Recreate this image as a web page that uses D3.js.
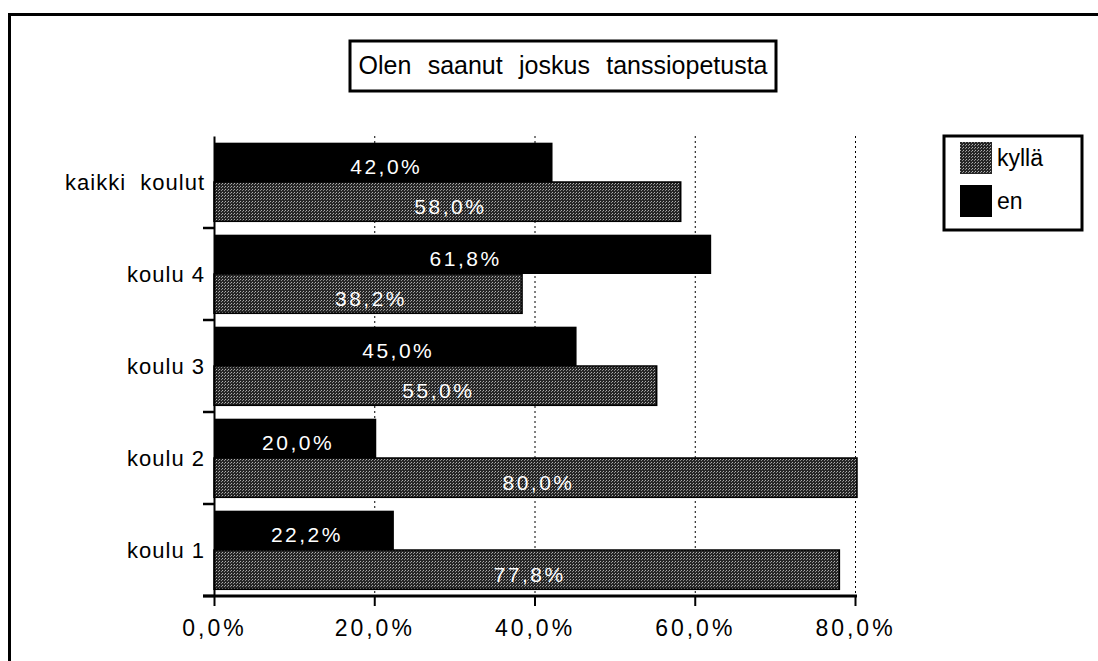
<!DOCTYPE html>
<html><head><meta charset="utf-8">
<script src="https://cdn.jsdelivr.net/npm/d3@7/dist/d3.min.js"></script>
<style>
html,body{margin:0;padding:0;background:#fff;}
svg{display:block;}
text{font-family:"Liberation Sans",Arial,Helvetica,sans-serif;}
</style></head>
<body>
<script>
const title = "Olen saanut joskus tanssiopetusta";
const categories = ["kaikki  koulut","koulu 4","koulu 3","koulu 2","koulu 1"];
const seriesNames = ["en","kyllä"];
const enValues = [42.0, 61.8, 45.0, 20.0, 22.2];
const kyllaValues = [58.0, 38.2, 55.0, 80.0, 77.8];
const xTicks = [0, 20, 40, 60, 80];
const xTickLabels = ["0,0%","20,0%","40,0%","60,0%","80,0%"];

const W = 1098, H = 661;
const svg = d3.select("body").append("svg").attr("width", W).attr("height", H);

const defs = svg.append("defs");
const pat = defs.append("pattern").attr("id","dots").attr("patternUnits","userSpaceOnUse")
  .attr("width",3).attr("height",3);
pat.append("rect").attr("width",3).attr("height",3).attr("fill","#262626");
pat.append("rect").attr("x",0).attr("y",0).attr("width",1).attr("height",1).attr("fill","#b0b0b0");
pat.append("rect").attr("x",2).attr("y",1).attr("width",1).attr("height",1).attr("fill","#8a8a8a");

const fills = {"en":"#000", "kyllä":"url(#dots)"};

// outer frame
svg.append("line").attr("x1",9.5).attr("x2",9.5).attr("y1",13).attr("y2",H).attr("stroke","#000").attr("stroke-width",3);
svg.append("line").attr("x1",8).attr("x2",W).attr("y1",14.5).attr("y2",14.5).attr("stroke","#000").attr("stroke-width",3);

// title box
svg.append("rect").attr("x",350).attr("y",41).attr("width",426).attr("height",50)
  .attr("fill","#fff").attr("stroke","#000").attr("stroke-width",3);
const tt = svg.append("text").attr("x",563).attr("y",74).attr("text-anchor","middle")
  .attr("font-size",25).text(title);
{
  const w = tt.node().getComputedTextLength();
  const extra = 409 - w;
  if (extra > 0) tt.attr("word-spacing", (extra/3).toFixed(2)+"px");
  else tt.attr("textLength",409).attr("lengthAdjust","spacingAndGlyphs");
}

const x = d3.scaleLinear().domain([0,80]).range([214,855]);
const y = d3.scaleBand().domain(categories).range([136,596]);
const ySub = d3.scaleBand().domain(seriesNames).range([0, y.bandwidth()]).paddingOuter(0.17).paddingInner(0);

// gridlines
svg.append("g").selectAll("line").data(xTicks.slice(1)).join("line")
  .attr("x1",d=>x(d)+0.5).attr("x2",d=>x(d)+0.5).attr("y1",136).attr("y2",596)
  .attr("stroke","#000").attr("stroke-width",1).attr("stroke-dasharray","2,3");

// bars
const rows = categories.map((c,i)=>({cat:c, values:[{s:"en",v:enValues[i]},{s:"kyllä",v:kyllaValues[i]}]}));
const g = svg.append("g");
rows.forEach(r=>{
  r.values.forEach(d=>{
    const y0 = y(r.cat)+ySub(d.s);
    g.append("rect").attr("x",x(0)).attr("y",y0).attr("width",x(d.v)-x(0)+2).attr("height",ySub.bandwidth())
      .attr("fill",fills[d.s]).attr("stroke", d.s==="kyllä" ? "#000":"none").attr("stroke-width",1.5);
    g.append("text").attr("x",(x(0)+x(d.v))/2+4).attr("y",y0+ySub.bandwidth()/2+12)
      .attr("text-anchor","middle").attr("fill","#fff").attr("font-size",21)
      .attr("letter-spacing","2.5px")
      .text(d.v.toFixed(1).replace(".",",")+"%");
  });
});

// y axis
const yAxis = d3.axisLeft(y).tickSize(0).tickPadding(9);
const ya = svg.append("g").attr("transform","translate(214,0)").call(yAxis);
ya.select(".domain").attr("stroke","#000").attr("stroke-width",2);
ya.selectAll("text").attr("font-size",22).attr("fill","#000").attr("dy","0.35em")
  .attr("letter-spacing","1px")
  .style("white-space","pre").attr("xml:space","preserve");
// boundary ticks
svg.append("g").selectAll("line").data(categories).join("line")
  .attr("x1",203).attr("x2",214).attr("y1",d=>y(d)+y.bandwidth()).attr("y2",d=>y(d)+y.bandwidth())
  .attr("stroke","#000").attr("stroke-width",2.5);

// x axis
const xAxis = d3.axisBottom(x).tickValues(xTicks).tickFormat((d,i)=>xTickLabels[i]).tickSize(10).tickPadding(14);
const xa = svg.append("g").attr("transform","translate(0,596)").call(xAxis);
xa.select(".domain").remove();
xa.selectAll(".tick line").attr("stroke","#000").attr("stroke-width",2);
xa.selectAll("text").attr("font-size",23).attr("fill","#000").attr("letter-spacing","3px").attr("dx","0px");
svg.append("line").attr("x1",203).attr("x2",857).attr("y1",596).attr("y2",596).attr("stroke","#000").attr("stroke-width",3);

// legend
const lg = svg.append("g");
lg.append("rect").attr("x",944).attr("y",136).attr("width",138).attr("height",94)
  .attr("fill","#fff").attr("stroke","#000").attr("stroke-width",3);
const legendItems = ["kyllä","en"];
legendItems.forEach((s,i)=>{
  const yy = 142 + i*43;
  lg.append("rect").attr("x",960).attr("y",yy).attr("width",32).attr("height",32).attr("fill",fills[s]);
  lg.append("text").attr("x",997).attr("y",yy+24).attr("font-size",23).attr("fill","#000").text(s);
});
</script>
</body></html>
